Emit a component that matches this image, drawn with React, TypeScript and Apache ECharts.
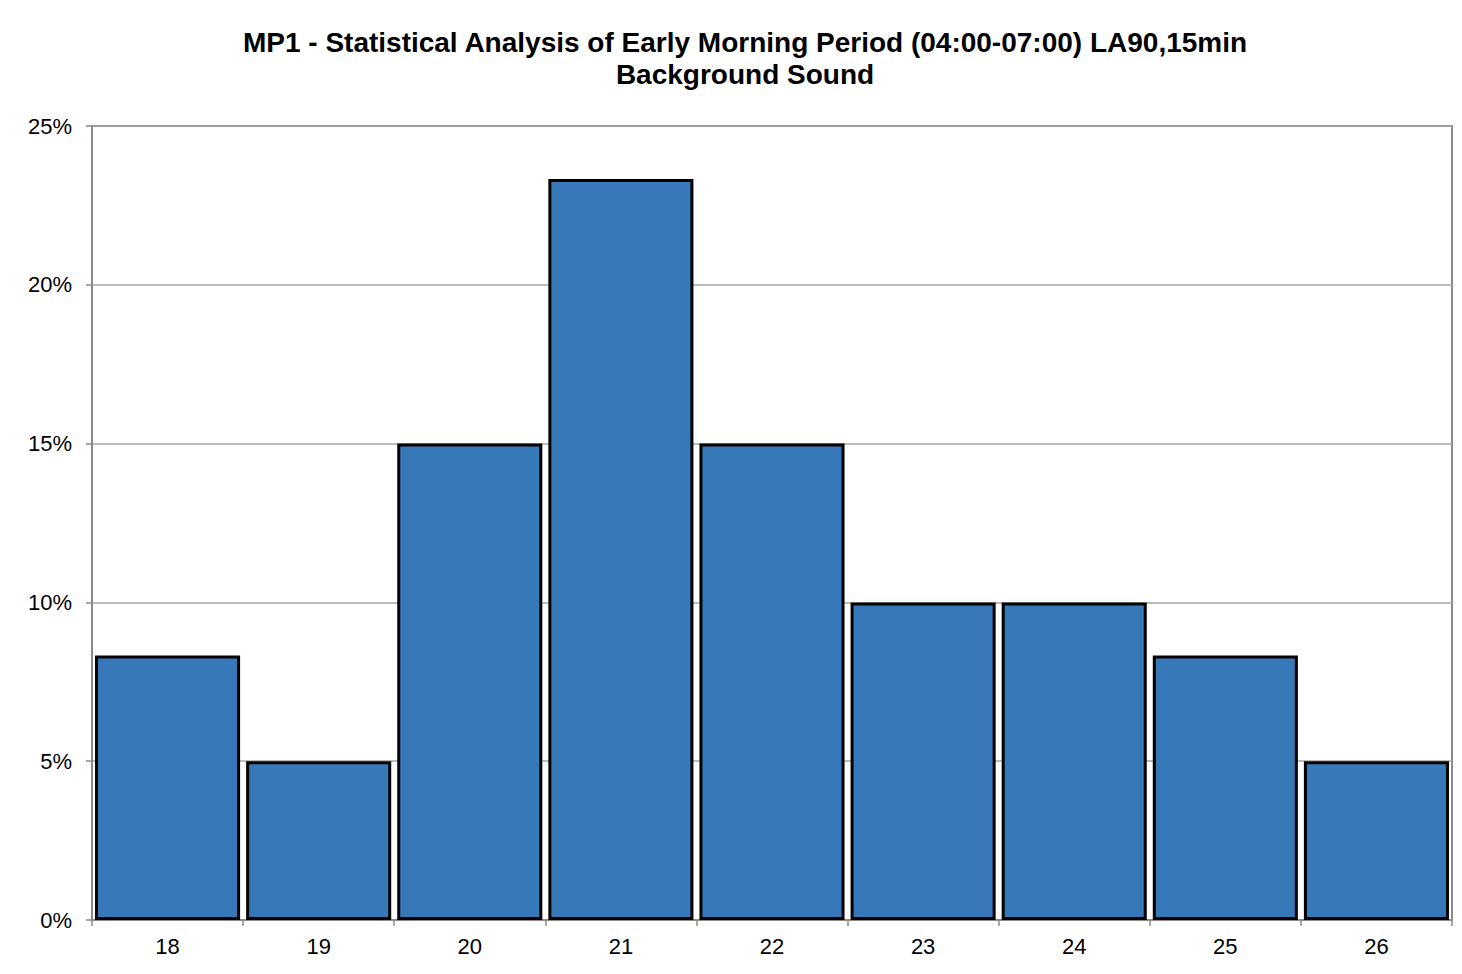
import React, { useEffect, useRef } from "react";
import * as echarts from "echarts";

const categories = ["18", "19", "20", "21", "22", "23", "24", "25", "26"];
const percentages = [8.33, 5, 15, 23.33, 15, 10, 10, 8.33, 5];
const titleLines = [
  "MP1 - Statistical Analysis of Early Morning Period (04:00-07:00) LA90,15min",
  "Background Sound",
];

const FONT = "Liberation Sans, Arial, sans-serif";

export default function App() {
  const ref = useRef<HTMLDivElement>(null);
  useEffect(() => {
    if (!ref.current) return;
    const chart = echarts.init(ref.current, null, { renderer: "svg" });
    chart.setOption({
      animation: false,
      backgroundColor: "#ffffff",
      graphic: titleLines.map((t, i) => ({
        type: "text",
        x: 745,
        y: 42 + i * 32,
        style: {
          text: t,
          fontFamily: FONT,
          fontWeight: "bold",
          fontSize: 28,
          fill: "#000",
          align: "center",
          verticalAlign: "middle",
        },
      })),
      grid: {
        left: 92,
        right: 10,
        top: 126,
        bottom: 54,
        show: true,
        borderColor: "#8a8a8a",
        borderWidth: 2,
        backgroundColor: "transparent",
      },
      xAxis: {
        type: "category",
        data: categories,
        axisLine: { show: true, lineStyle: { color: "#8a8a8a", width: 2 } },
        axisTick: { show: true, length: 6, lineStyle: { color: "#8a8a8a", width: 1.5 } },
        axisLabel: {
          fontFamily: FONT,
          fontSize: 22,
          color: "#000",
          margin: 15,
        },
      },
      yAxis: {
        type: "value",
        min: 0,
        max: 25,
        interval: 5,
        axisLine: { show: true, lineStyle: { color: "#8a8a8a", width: 2 } },
        axisTick: { show: true, length: 6, lineStyle: { color: "#8a8a8a", width: 1.5 } },
        splitLine: { show: true, lineStyle: { color: "#a6a6a6", width: 1.5 } },
        axisLabel: {
          formatter: (v: number) => `${v}%`,
          fontFamily: FONT,
          fontSize: 22,
          color: "#000",
          margin: 20,
        },
      },
      series: [
        {
          type: "bar",
          data: percentages,
          barCategoryGap: "4%",
          itemStyle: {
            color: "#3678b8",
            borderColor: "#000",
            borderWidth: 3,
          },
        },
      ],
    });
    return () => chart.dispose();
  }, []);
  return (
    <div
      ref={ref}
      style={{ position: "absolute", left: 0, top: 0, width: 1462, height: 974 }}
    />
  );
}
